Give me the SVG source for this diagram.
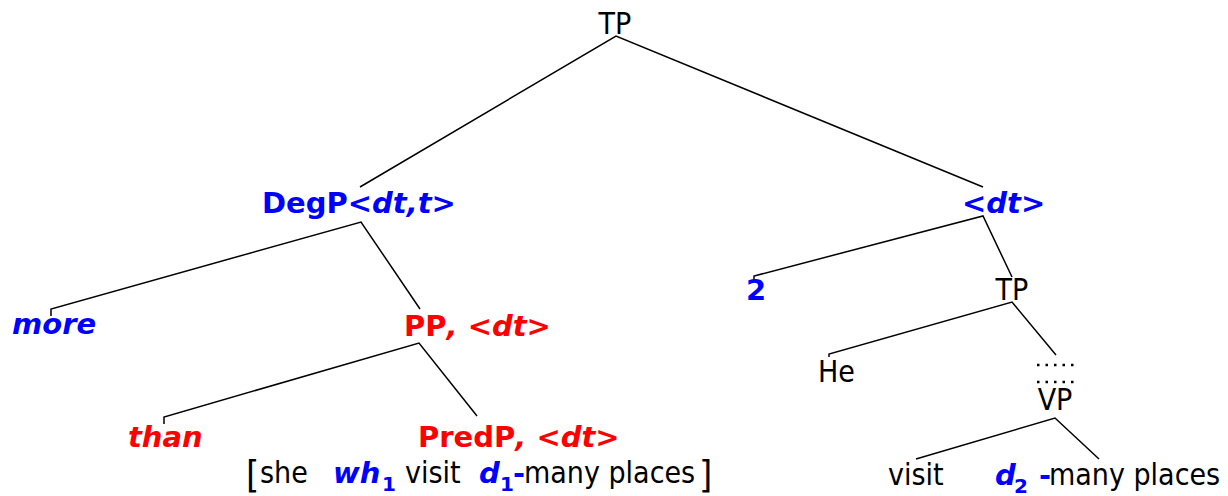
<svg xmlns="http://www.w3.org/2000/svg" width="1228" height="496" viewBox="0 0 1228 496">
<style>
.r{font-family:"DejaVu Sans Condensed","DejaVu Sans",sans-serif;font-size:30px;fill:#000}
.b{font-family:"DejaVu Sans","Verdana",sans-serif;font-weight:bold;font-size:29px}
.i{font-style:italic}
.blue{fill:#0000ff}
.red{fill:#ff0000}
.sub{font-size:20px}
.ln{fill:none;stroke:#000;stroke-width:1.5}
.dots{stroke:#000;stroke-width:2.5;stroke-dasharray:2.5 6}
</style>
<rect width="1228" height="496" fill="#fff"/>
<g id="connectors">
<polyline class="ln" points="360,187 616,36 983,187"/>
<polyline class="ln" points="51,316 51,309 361,222 420,309"/>
<polyline class="ln" points="164,424 164,417 419,343 477,416"/>
<polyline class="ln" points="754,280 754,276 983,216 1012,277"/>
<polyline class="ln" points="829,357 829,354 1012,302 1056,355"/>
<polyline class="ln" points="916,459 1055,418 1099,459"/>
</g>
<g id="tp-root"><text class="r" x="615" y="34" text-anchor="middle">TP</text></g>
<g id="degp"><text class="b blue" x="262" y="213">DegP&lt;<tspan class="i">dt,t</tspan>&gt;</text></g>
<g id="dt-right"><text class="b blue" x="962" y="213">&lt;<tspan class="i">dt</tspan>&gt;</text></g>
<g id="more"><text class="b i blue" x="12" y="334">more</text></g>
<g id="pp"><text class="b red" x="404" y="336">PP<tspan class="i">, </tspan>&lt;<tspan class="i">dt</tspan>&gt;</text></g>
<g id="than"><text class="b i red" x="128" y="447">than</text></g>
<g id="predp"><text class="b red" x="418" y="447">PredP<tspan class="i">, </tspan>&lt;<tspan class="i">dt</tspan>&gt;</text></g>
<g id="clause-left">
<text class="r" x="246" y="487" style="font-size:38px">[</text>
<text class="r" x="260" y="483">she</text>
<text class="b i blue" x="333" y="483">wh</text>
<text class="b blue sub" x="382" y="491">1</text>
<text class="r" x="405" y="483">visit</text>
<text class="b i blue" x="479" y="483">d</text>
<text class="b blue sub" x="500" y="491">1</text>
<text class="b blue" x="513" y="483">-</text>
<text class="r" x="524" y="483">many places</text>
<text class="r" x="699" y="487" style="font-size:38px">]</text>
</g>
<g id="two"><text class="b blue" x="746" y="300">2</text></g>
<g id="tp2"><text class="r" x="1012" y="300" text-anchor="middle">TP</text></g>
<g id="he"><text class="r" x="818" y="382">He</text></g>
<g id="ellipsis">
<line class="dots" x1="1037" y1="365" x2="1075" y2="365"/>
<line class="dots" x1="1037" y1="382" x2="1075" y2="382"/>
</g>
<g id="vp"><text class="r" x="1055" y="410" text-anchor="middle">VP</text></g>
<g id="visit"><text class="r" x="888" y="485">visit</text></g>
<g id="many-places">
<text class="b i blue" x="995" y="485">d</text>
<text class="b blue sub" x="1014" y="493">2</text>
<text class="b blue" x="1039" y="485">-</text>
<text class="r" x="1049" y="485">many places</text>
</g>
</svg>
